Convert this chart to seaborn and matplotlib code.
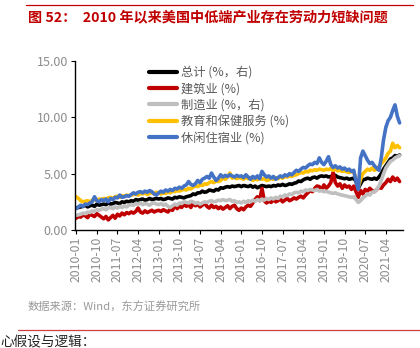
import numpy as np
import pandas as pd
import matplotlib
matplotlib.use("Agg")
import matplotlib.pyplot as plt
import seaborn as sns

# ---- data (monthly, 2010-01 .. 2021-10) ----
total = [
    1.95, 2.0, 2.05, 2.1, 2.2, 2.05, 2.15, 2.2, 2.1, 2.3, 2.2, 2.25,
    2.3, 2.25, 2.4, 2.3, 2.35, 2.45, 2.4, 2.35, 2.5, 2.45, 2.55, 2.5,
    2.6, 2.55, 2.7, 2.65, 2.7, 2.75, 2.65, 2.7, 2.8, 2.7, 2.75, 2.8,
    2.75, 2.8, 2.7, 2.75, 2.85, 2.8, 2.75, 2.9, 2.85, 2.95, 2.9, 2.85,
    2.95, 3.0, 3.05, 3.2, 3.15, 3.3, 3.3, 3.45, 3.35, 3.4, 3.55, 3.5,
    3.45, 3.6, 3.55, 3.75, 3.7, 3.8, 3.85, 3.8, 3.9, 3.85, 3.9, 3.95,
    3.85, 3.95, 3.9, 3.85, 3.95, 3.8, 3.9, 3.75, 3.85, 3.95, 3.9, 3.85,
    3.9, 3.85, 3.95, 3.9, 4.0, 3.95, 4.05, 3.95, 4.0, 4.1, 4.05, 4.15,
    4.2, 4.35, 4.3, 4.45, 4.55, 4.6, 4.5, 4.65, 4.7, 4.6, 4.75, 4.8,
    4.75, 4.8, 4.7, 4.75, 4.8, 4.85, 4.7, 4.65, 4.6, 4.55, 4.6, 4.5,
    4.55, 4.6, 4.3, 3.7, 4.1, 4.45, 4.5, 4.6, 4.55, 4.5, 4.6, 4.5,
    4.7, 5.0, 5.4, 5.7, 6.0, 6.3, 6.4, 6.6, 6.55, 6.65,
]
construction = [
    1.05, 1.2, 1.15, 1.35, 1.25, 1.1, 1.4, 1.3, 1.2, 1.45, 1.3, 1.15,
    1.0, 1.2, 0.9, 1.1, 1.3, 1.05, 1.4, 1.25, 1.5, 1.35, 1.55, 1.45,
    1.6, 1.5, 1.65, 1.95, 1.6, 1.5, 1.7, 1.55, 1.65, 1.75, 1.6, 1.7,
    1.75, 1.65, 1.8, 1.7, 1.6, 1.85, 1.75, 2.2, 1.9, 2.1, 2.0, 2.3,
    2.1, 2.25, 2.0, 2.35, 2.15, 2.3, 2.05, 2.2, 2.4, 2.1, 1.95, 2.2,
    2.0, 2.1, 1.9, 2.05, 1.85, 2.0, 2.15, 1.9, 2.1, 2.2, 1.9, 1.75,
    1.95, 1.8, 2.05, 2.2, 2.1, 2.4, 2.7, 2.95, 2.6, 3.7, 2.6, 2.4,
    2.55, 2.45, 2.7, 2.5, 2.6, 2.75, 2.5, 2.65, 2.8, 2.6, 2.7, 2.85,
    2.75, 2.9, 3.0, 2.85, 3.1, 3.3, 3.5, 3.4, 3.7, 3.9, 3.85, 3.6,
    4.0, 3.7, 3.9, 4.2, 5.1, 4.2, 3.9, 4.1, 3.7, 4.0, 3.8, 3.9,
    3.6, 3.9, 3.4, 2.9, 3.5, 3.2, 3.6, 3.45, 3.7, 3.5, 3.4, 3.6,
    3.8, 3.7, 4.0, 4.2, 4.5, 4.3, 4.7, 4.4, 4.6, 4.3,
]
manufacturing = [
    1.3, 1.35, 1.4, 1.5, 1.45, 1.6, 1.55, 1.7, 1.65, 1.8, 1.75, 1.85,
    1.9, 1.8, 1.95, 2.0, 1.9, 2.05, 1.95, 2.1, 2.0, 2.15, 2.05, 2.2,
    2.25, 2.2, 2.35, 2.3, 2.4, 2.25, 2.35, 2.3, 2.2, 2.35, 2.4, 2.3,
    2.25, 2.35, 2.2, 2.3, 2.1, 2.0, 2.15, 2.3, 2.2, 2.4, 2.35, 2.5,
    2.45, 2.4, 2.55, 2.5, 2.35, 2.45, 2.3, 2.4, 2.5, 2.45, 2.55, 2.6,
    2.5, 2.55, 2.65, 2.6, 2.7, 2.6, 2.65, 2.7, 2.55, 2.6, 2.45, 2.5,
    2.4, 2.55, 2.45, 2.6, 2.5, 2.65, 2.55, 2.7, 2.6, 2.75, 2.65, 2.8,
    2.7, 2.85, 2.75, 2.9, 2.8, 3.0, 2.95, 3.1, 3.05, 3.2, 3.15, 3.3,
    3.35, 3.3, 3.45, 3.4, 3.55, 3.5, 3.6, 3.55, 3.5, 3.6, 3.45, 3.5,
    3.4, 3.45, 3.35, 3.3, 3.25, 3.3, 3.2, 3.15, 3.1, 3.05, 3.0, 2.95,
    2.9, 2.95, 2.7, 2.45, 2.6, 2.85, 3.0, 3.2, 3.1, 3.35, 3.4, 3.6,
    3.9, 4.4, 5.0, 5.5, 5.8, 6.1, 6.2, 6.4, 6.5, 6.6,
]
education_health = [
    2.95, 2.8, 2.6, 2.5, 2.55, 2.6, 2.5, 2.65, 2.7, 2.6, 2.75, 2.7,
    2.8, 2.75, 2.85, 2.9, 2.8, 2.95, 3.0, 2.9, 3.05, 3.0, 3.1, 3.05,
    3.1, 3.15, 3.2, 3.1, 3.25, 3.2, 3.3, 3.15, 3.25, 3.3, 3.2, 3.35,
    3.3, 3.2, 3.3, 3.25, 3.35, 3.3, 3.45, 3.4, 3.5, 3.45, 3.55, 3.6,
    3.55, 3.7, 3.65, 3.8, 3.9, 3.85, 4.0, 3.95, 4.1, 4.05, 4.2, 4.3,
    4.2, 4.35, 4.3, 4.4, 4.6, 4.5, 4.7, 5.05, 4.6, 4.7, 4.55, 4.65,
    4.6, 4.5, 4.7, 4.55, 4.65, 4.4, 4.55, 4.45, 4.6, 4.5, 4.55, 4.4,
    4.45, 4.6, 4.5, 4.65, 4.55, 4.7, 4.6, 4.75, 4.7, 4.8, 4.75, 4.85,
    4.9, 5.0, 5.1, 5.05, 5.2, 5.15, 5.3, 5.25, 5.35, 5.3, 5.4, 5.35,
    5.3, 5.4, 5.35, 5.45, 5.3, 5.4, 5.25, 5.3, 5.2, 5.25, 5.15, 5.1,
    5.2, 5.1, 4.6, 3.8, 4.5, 5.0, 5.2, 5.4, 5.3, 5.5, 5.3, 5.4,
    5.6, 5.9, 6.1, 6.4, 6.8, 7.0, 7.7, 7.3, 7.5, 7.3,
]
leisure = [
    1.9, 2.05, 2.2, 2.1, 2.3, 2.25, 2.4, 2.5, 2.95, 2.6, 2.5, 2.7,
    2.6, 2.75, 2.5, 2.8, 2.7, 2.9, 2.85, 3.1, 2.9, 2.95, 3.05, 3.0,
    3.15, 3.3, 3.2, 3.35, 3.4, 3.3, 3.45, 3.35, 3.5, 3.4, 3.2, 3.1,
    3.3, 3.45, 3.35, 3.55, 3.45, 3.6, 3.5, 3.7, 3.65, 3.8, 3.7, 3.9,
    4.0, 4.3, 4.05, 3.95, 4.1, 4.4, 4.2, 4.5, 4.6, 4.75, 4.6, 5.05,
    4.7, 4.4, 4.6, 4.9, 4.7, 4.85, 4.75, 4.9, 4.8, 4.7, 4.85, 4.75,
    4.8, 4.65, 4.9, 4.7, 4.5, 4.75, 4.6, 4.8, 4.55, 5.2, 4.9, 4.7,
    4.8, 4.6, 4.75, 4.5, 4.65, 4.8, 4.7, 4.9, 4.8, 5.0, 4.9, 5.1,
    5.3, 5.2, 5.4, 5.55, 5.5, 5.7, 5.85, 5.8, 6.0, 5.9, 6.4, 6.0,
    5.8, 6.1, 6.5, 5.8, 5.55, 5.7, 5.5, 5.6, 5.4, 5.5, 5.3, 5.4,
    5.2, 5.3, 4.3, 3.6, 6.4, 7.0, 6.6, 6.2, 5.9, 6.0, 5.7, 5.5,
    5.3, 6.4, 8.0, 9.1, 9.7, 10.0, 10.6, 11.1, 10.1, 9.5,
]

series_names = ["总计 (%，右)", "建筑业 (%)", "制造业 (%，右)", "教育和保健服务 (%)", "休闲住宿业 (%)"]
series_values = [total, construction, manufacturing, education_health, leisure]
colors = ["#000000", "#C00000", "#BFBFBF", "#FFC000", "#4472C4"]
yticks = [0, 5, 10, 15]

months = pd.date_range("2010-01-01", periods=len(total), freq="MS")
month_labels = [d.strftime("%Y-%m") for d in months]

rows = []
for name, vals in zip(series_names, series_values):
    for i, v in enumerate(vals):
        rows.append({"idx": i, "value": v, "series": name})
df = pd.DataFrame(rows)

sns.set_style("ticks")
plt.rcParams["font.family"] = ["Noto Sans CJK SC", "DejaVu Sans"]

fig = plt.figure(figsize=(4.2, 3.48), dpi=100)
ax = fig.add_axes([0.1786, 0.339, 0.781, 0.486])

sns.lineplot(data=df, x="idx", y="value", hue="series", hue_order=series_names,
             palette=colors, linewidth=2.6, ax=ax, legend=True)

ax.set_xlim(-0.5, len(total) + 0.5)
ax.set_ylim(0, 15)
ax.set_yticks(yticks)
ax.set_yticklabels([f"{v:.2f}" for v in yticks], color="#8c8c8c", fontsize=9)
tick_pos = list(range(0, len(total), 9))
ax.set_xticks(tick_pos)
ax.set_xticklabels([month_labels[i] for i in tick_pos], rotation=90, color="#8c8c8c", fontsize=8.8)
ax.set_xlabel("")
ax.set_ylabel("")
for s in ["top", "right"]:
    ax.spines[s].set_visible(False)
ax.spines["left"].set_color("black")
ax.spines["bottom"].set_color("black")
ax.spines["left"].set_linewidth(1.0)
ax.spines["bottom"].set_linewidth(1.0)
ax.tick_params(axis="both", length=3, width=0.8, color="black", pad=2)
ax.grid(False)

leg = ax.legend(loc="upper left", bbox_to_anchor=(0.21, 1.0), frameon=False,
                fontsize=8.8, handlelength=2.3, handletextpad=0.35,
                labelspacing=0.28, borderaxespad=0)
for t in leg.get_texts():
    t.set_color("#595959")
for h in leg.get_lines():
    h.set_linewidth(3.0)

# header / footer
fig.add_artist(plt.Line2D([26 / 420, 413 / 420], [1 - 5 / 348, 1 - 5 / 348],
                          color="#C00000", linewidth=0.9))
fig.text(28 / 420, 1 - 17 / 348, "图 52：  2010 年以来美国中低端产业存在劳动力短缺问题",
         color="#C00000", fontsize=10.2, fontweight="bold", va="center", ha="left")
fig.text(28 / 420, 1 - 307 / 348, "数据来源：Wind，东方证券研究所",
         color="#9a9a9a", fontsize=8.1, va="center", ha="left")
fig.add_artist(plt.Line2D([18 / 420, 1.0], [1 - 330 / 348, 1 - 330 / 348],
                          color="#D04040", linewidth=0.9))
fig.text(0.0, 1 - 342 / 348, "心假设与逻辑：", color="#222222", fontsize=9.8,
         va="center", ha="left")

fig.savefig("out.png", dpi=100)
